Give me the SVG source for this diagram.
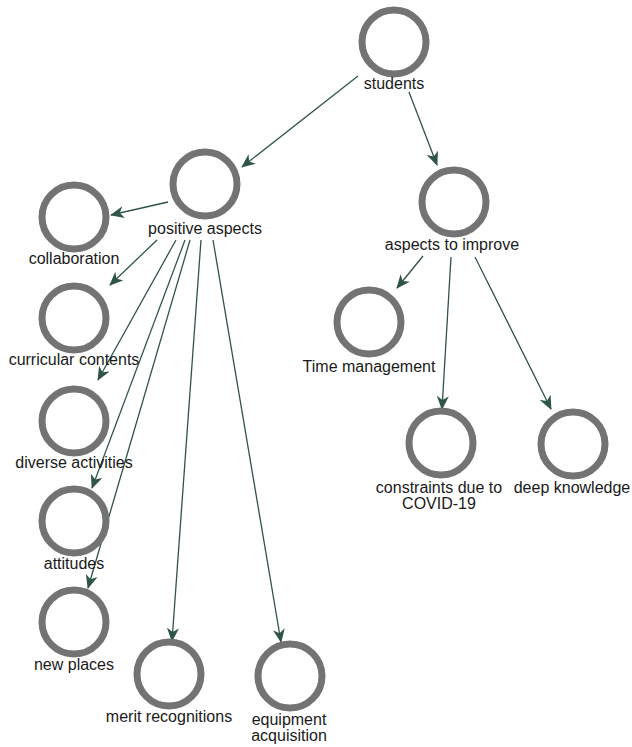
<svg xmlns="http://www.w3.org/2000/svg" width="632" height="747" viewBox="0 0 632 747">
<style>
.n circle{fill:#fff;stroke:#737373;stroke-width:7}
.n text{font-family:"Liberation Sans",Arial,sans-serif;font-size:16px;fill:#1a1a1a;text-anchor:middle}
#edges line{stroke:#2f5547;stroke-width:1.3;marker-end:url(#ah)}
</style>
<defs>
<marker id="ah" viewBox="0 0 14 12" refX="13" refY="6" markerWidth="14" markerHeight="12" markerUnits="userSpaceOnUse" orient="auto">
<path d="M0,0 L14,6 L0,12 L4,6 Z" fill="#2f5547"/>
</marker>
</defs>
<rect width="632" height="747" fill="#fff"/>
<g id="edges">
<line x1="358" y1="76" x2="242" y2="167"/>
<line x1="409" y1="92" x2="437" y2="165"/>
<line x1="168" y1="202" x2="111" y2="215"/>
<line x1="157" y1="240" x2="110" y2="285"/>
<line x1="176" y1="240" x2="98" y2="380"/>
<line x1="185" y1="240" x2="92" y2="488"/>
<line x1="190" y1="240" x2="88" y2="588"/>
<line x1="201" y1="240" x2="172" y2="641"/>
<line x1="213" y1="240" x2="281" y2="642"/>
<line x1="423" y1="256" x2="397" y2="288"/>
<line x1="451" y1="257" x2="442" y2="409"/>
<line x1="475" y1="257" x2="551" y2="409"/>
</g>
<g id="students" class="n"><circle cx="394" cy="42" r="32"/><text x="394" y="89">students</text></g>
<g id="positive-aspects" class="n"><circle cx="205" cy="184" r="32"/><text x="205" y="234">positive aspects</text></g>
<g id="aspects-to-improve" class="n"><circle cx="454" cy="202" r="32"/><text x="452" y="250">aspects to improve</text></g>
<g id="collaboration" class="n"><circle cx="74" cy="217" r="32"/><text x="74" y="264">collaboration</text></g>
<g id="curricular-contents" class="n"><circle cx="74" cy="318" r="32"/><text x="74" y="365">curricular contents</text></g>
<g id="diverse-activities" class="n"><circle cx="74" cy="421" r="32"/><text x="74" y="468">diverse activities</text></g>
<g id="attitudes" class="n"><circle cx="74" cy="521" r="32"/><text x="74" y="569">attitudes</text></g>
<g id="new-places" class="n"><circle cx="74" cy="622" r="32"/><text x="74" y="670">new places</text></g>
<g id="merit-recognitions" class="n"><circle cx="169" cy="674" r="32"/><text x="169" y="722">merit recognitions</text></g>
<g id="equipment-acquisition" class="n"><circle cx="290" cy="676" r="32"/><text x="289" y="725">equipment</text><text x="289" y="741">acquisition</text></g>
<g id="time-management" class="n"><circle cx="369" cy="322" r="32"/><text x="369" y="372">Time management</text></g>
<g id="constraints" class="n"><circle cx="441" cy="443" r="32"/><text x="439" y="493">constraints due to</text><text x="439" y="509">COVID-19</text></g>
<g id="deep-knowledge" class="n"><circle cx="573" cy="444" r="32"/><text x="572" y="493">deep knowledge</text></g>
</svg>
